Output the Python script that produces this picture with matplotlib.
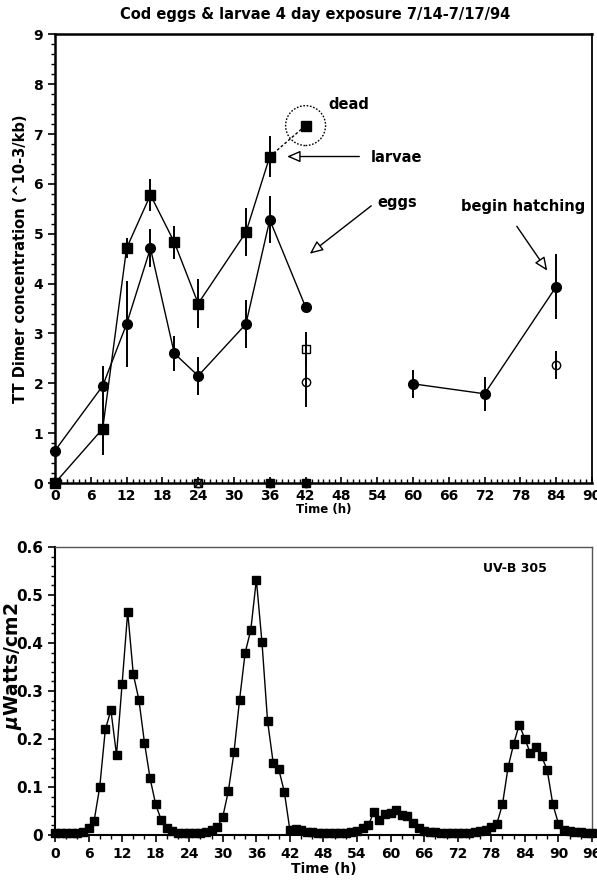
import numpy as np
import matplotlib
matplotlib.use("Agg")
import matplotlib.pyplot as plt
from matplotlib.patches import Ellipse
from matplotlib.ticker import MultipleLocator

plt.rcParams["font.family"] = ["DejaVu Sans"]
plt.rcParams["font.weight"] = "bold"

# ── TT dimer data (10^-3 / kb) ───────────────────────────────────────────────
larvae_t = [0, 8, 12, 16, 20, 24, 32, 36]
larvae_v = [0.0, 1.09, 4.71, 5.78, 4.83, 3.60, 5.03, 6.55]
larvae_err = [0.0, 0.52, 0.20, 0.32, 0.33, 0.50, 0.48, 0.42]
dead_t = [36, 42]
dead_v = [6.55, 7.17]

eggs_t = [0, 8, 12, 16, 20, 24, 32, 36, 42]
eggs_v = [0.65, 1.95, 3.19, 4.71, 2.60, 2.15, 3.19, 5.28, 3.53]
eggs_err = [0.0, 0.40, 0.87, 0.38, 0.35, 0.38, 0.48, 0.47, 0.0]

hatch_t = [60, 72, 84]
hatch_v = [1.99, 1.79, 3.94]
hatch_err = [0.28, 0.34, 0.65]

ctrl_sq_t = [24, 36, 42]
ctrl_sq_v = [0.0, 0.0, 2.68]
ctrl_sq_err = [0.0, 0.0, 0.34]
ctrl_ci_t = [24, 42, 84]
ctrl_ci_v = [0.0, 2.03, 2.36]
ctrl_ci_err = [0.0, 0.50, 0.28]
zero_sq_t = [42]
zero_ci_t = [36, 42]

# ── UV-B 305 irradiance, hourly ──────────────────────────────────────────────
uv_hours = np.arange(0, 97)
uv_vals = [
    0.004, 0.004, 0.004, 0.004, 0.005, 0.007, 0.014, 0.030, 0.100, 0.220,
    0.260, 0.167, 0.315, 0.465, 0.335, 0.282, 0.192, 0.118, 0.064, 0.031,
    0.014, 0.008, 0.005, 0.004, 0.004, 0.004, 0.005, 0.007, 0.010, 0.016,
    0.038, 0.092, 0.172, 0.282, 0.380, 0.427, 0.532, 0.402, 0.238, 0.151,
    0.137, 0.090, 0.010, 0.012, 0.010, 0.007, 0.006, 0.005, 0.005, 0.004,
    0.004, 0.004, 0.005, 0.006, 0.008, 0.014, 0.020, 0.048, 0.031, 0.043,
    0.046, 0.052, 0.042, 0.040, 0.026, 0.014, 0.009, 0.007, 0.006, 0.005,
    0.004, 0.004, 0.004, 0.004, 0.005, 0.006, 0.008, 0.010, 0.016, 0.024,
    0.064, 0.141, 0.190, 0.230, 0.200, 0.170, 0.184, 0.164, 0.135, 0.064,
    0.024, 0.010, 0.008, 0.007, 0.006, 0.005, 0.005,
]

fig = plt.figure(figsize=(5.97, 8.84), dpi=100)
ax1 = fig.add_axes([0.0921, 0.4536, 0.8995, 0.5075])
ax2 = fig.add_axes([0.0921, 0.0554, 0.8995, 0.3258])

ms = 7
eb = dict(fmt="none", ecolor="black", elinewidth=1.4, capsize=0, clip_on=False)

# larvae
ax1.errorbar(larvae_t, larvae_v, yerr=larvae_err, **eb)
ax1.plot(larvae_t, larvae_v, "-", color="black", lw=1, marker="s", ms=ms,
         mfc="black", mec="black", clip_on=False, zorder=5)
ax1.plot(dead_t, dead_v, "--", color="black", lw=1, dashes=(2, 1.5))
ax1.plot(dead_t[-1:], dead_v[-1:], "s", color="black", ms=ms, zorder=5)
ax1.add_patch(Ellipse((42, 7.17), 6.7, 0.8, fill=False, ls=(0, (1.2, 1.2)),
                      lw=1, ec="black"))

# eggs
ax1.errorbar(eggs_t, eggs_v, yerr=eggs_err, **eb)
ax1.plot(eggs_t, eggs_v, "-", color="black", lw=1, marker="o", ms=ms,
         mfc="black", mec="black", clip_on=False, zorder=5)
ax1.errorbar(hatch_t, hatch_v, yerr=hatch_err, **eb)
ax1.plot(hatch_t, hatch_v, "-", color="black", lw=1, marker="o", ms=ms,
         mfc="black", mec="black", clip_on=False, zorder=5)

# unexposed controls
ax1.errorbar(ctrl_sq_t, ctrl_sq_v, yerr=ctrl_sq_err, **eb)
ax1.errorbar(ctrl_ci_t, ctrl_ci_v, yerr=ctrl_ci_err, **eb)
ax1.plot(zero_ci_t, [0] * len(zero_ci_t), "o", color="black", ms=ms - 1,
         clip_on=False, zorder=5)
ax1.plot(zero_sq_t, [0] * len(zero_sq_t), "s", color="black", ms=ms - 1,
         clip_on=False, zorder=5)
ax1.plot(ctrl_sq_t, ctrl_sq_v, "s", ms=ms - 1, mfc="none", mec="black",
         mew=1, clip_on=False, zorder=6)
ax1.plot(ctrl_ci_t, ctrl_ci_v, "o", ms=ms - 1, mfc="none", mec="black",
         mew=1, clip_on=False, zorder=6)
ax1.plot([24], [0], "x", ms=ms - 2, color="black", mew=0.8, clip_on=False,
         zorder=6)

arrow = dict(arrowstyle="-|>,head_length=0.8,head_width=0.35", fc="white",
             ec="black", lw=1, shrinkA=0, shrinkB=0)
lbl = dict(fontsize=10.5, fontweight="bold", va="center")
ax1.text(45.8, 7.6, "dead", **lbl)
ax1.annotate("", xy=(38.9, 6.55), xytext=(51.0, 6.55), arrowprops=arrow)
ax1.text(53.0, 6.54, "larvae", **lbl)
ax1.annotate("", xy=(42.7, 4.60), xytext=(53.0, 5.56), arrowprops=arrow)
ax1.text(54.0, 5.63, "eggs", **lbl)
ax1.annotate("", xy=(82.5, 4.26), xytext=(77.4, 5.15), arrowprops=arrow)
ax1.text(68.0, 5.55, "begin hatching", **lbl)

ax1.set_xlim(0, 90)
ax1.set_ylim(0, 9)
ax1.xaxis.set_major_locator(MultipleLocator(6))
ax1.xaxis.set_minor_locator(MultipleLocator(1))
ax1.yaxis.set_major_locator(MultipleLocator(1))
ax1.yaxis.set_minor_locator(MultipleLocator(0.2))
ax1.tick_params(axis="x", which="both", direction="in", labelsize=10, pad=4)
ax1.tick_params(axis="x", which="major", length=4, width=1.2)
ax1.tick_params(axis="x", which="minor", length=3, width=1)
ax1.tick_params(axis="y", which="both", direction="out", labelsize=10)
ax1.tick_params(axis="y", which="major", length=5, width=1.2)
ax1.tick_params(axis="y", which="minor", length=3, width=1)
for side in ["left", "bottom", "top"]:
    ax1.spines[side].set_linewidth(1.8)
ax1.spines["right"].set_linewidth(1.3)
ax1.set_xlabel("Time (h)", fontsize=8.5, fontweight="bold", labelpad=0)
ax1.set_ylabel("TT Dimer concentration (^10-3/kb)", fontsize=10.5,
               fontweight="bold")
ax1.yaxis.set_label_coords(-0.05, 0.5)

fig.text(315 / 597, 1 - 14 / 884,
         "Cod eggs & larvae 4 day exposure 7/14-7/17/94",
         ha="center", va="center", fontsize=10.5, fontweight="bold")

# UV-B panel
ax2.plot(uv_hours, uv_vals, "-", color="black", lw=1, marker="s", ms=6,
         mfc="black", mec="black", clip_on=False, zorder=5)
ax2.text(82.2, 0.556, "UV-B 305", fontsize=9, fontweight="bold",
         ha="center", va="center")
ax2.set_xlim(0, 96)
ax2.set_ylim(0, 0.6)
ax2.xaxis.set_major_locator(MultipleLocator(6))
ax2.xaxis.set_minor_locator(MultipleLocator(2))
ax2.yaxis.set_minor_locator(MultipleLocator(0.02))
ax2.set_yticks([0, 0.1, 0.2, 0.3, 0.4, 0.5, 0.6])
ax2.set_yticklabels(["0", "0.1", "0.2", "0.3", "0.4", "0.5", "0.6"])
ax2.tick_params(axis="both", which="both", direction="out")
ax2.tick_params(axis="x", labelsize=10)
ax2.tick_params(axis="y", labelsize=11)
ax2.tick_params(axis="both", which="major", length=5, width=1.2)
ax2.tick_params(axis="both", which="minor", length=3, width=1)
ax2.spines["left"].set_linewidth(1.5)
ax2.spines["bottom"].set_linewidth(1.5)
ax2.spines["top"].set_linewidth(1)
ax2.spines["right"].set_linewidth(1)
ax2.spines["top"].set_color("#555555")
ax2.spines["right"].set_color("#555555")
ax2.set_xlabel("Time (h)", fontsize=10, fontweight="bold", labelpad=1)
fig.text(13 / 597, 1 - 666 / 884, r"$\mu$Watts/cm2", rotation=90,
         ha="center", va="center", fontsize=13.5, fontweight="bold",
         zorder=10)

fig.savefig("out.png", dpi=100)
